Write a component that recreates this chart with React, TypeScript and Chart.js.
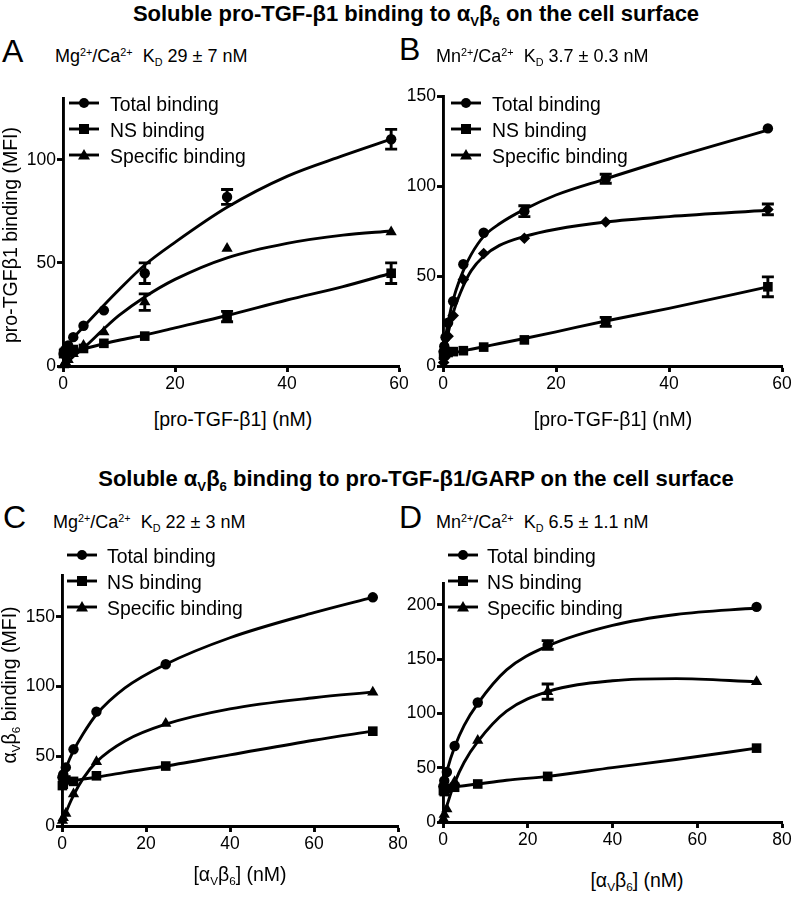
import React, { useEffect, useRef } from "react";
import { Chart, registerables } from "chart.js";
Chart.register(...registerables);

const FONT = '"Liberation Sans", Arial, Helvetica, sans-serif';

// ---------- Panel A : pro-TGF-b1 -> aVb6, Mg/Ca ----------
const concA = [0.11, 0.23, 0.46, 0.92, 1.83, 3.66, 7.3, 14.6, 29.3, 58.6];
const totalA = [6, 7, 8, 10, 14, 19.5, 27, 45, 82, 110];
const totalErrA = [0, 0, 0, 0, 0, 0, 0, 5, 3.6, 4.8];
const nsA = [6, 6.5, 7, 7.5, 8, 8.5, 11, 14.5, 24, 45];
const nsErrA = [0, 0, 0, 0, 0, 0, 0, 0, 2.5, 5];
const specA = [0.5, 1, 2, 3, 6, 10, 16.5, 31, 57, 65];
const specErrA = [0, 0, 0, 0, 0, 0, 0, 4, 0, 0];
const curveXA = [0, 1, 2, 4, 7.3, 10, 14.6, 20, 29.3, 40, 50, 58.6];
const totalCurveA = [6, 10, 14, 20, 29.5, 37, 49, 60, 77, 92, 102, 110];
const nsCurveA = [6, 6.6, 7.2, 8.5, 10.8, 12.5, 15, 18.5, 24.5, 32, 38.5, 45];
const specCurveA = [0, 2.5, 5, 9.5, 18, 24.5, 33.5, 42, 52.5, 59.5, 63.5, 65.5];
const xTicksA = [0, 20, 40, 60];
const yTicksA = [0, 50, 100];

// ---------- Panel B : pro-TGF-b1 -> aVb6, Mn/Ca ----------
const concB = [0.11, 0.225, 0.45, 0.9, 1.8, 3.6, 7.2, 14.4, 28.8, 57.5];
const totalB = [8, 11, 16, 24, 36, 56.5, 74, 86, 104, 132];
const totalErrB = [0, 0, 0, 0, 0, 0, 0, 3, 2.5, 0];
const nsB = [6, 6.5, 7, 7.5, 8, 8.5, 10.5, 14.5, 24.5, 44];
const nsErrB = [0, 0, 0, 0, 0, 0, 0, 0, 2.5, 5.5];
const specB = [2, 4.5, 9, 16.5, 28, 48, 62.5, 71, 80, 87];
const specErrB = [0, 0, 0, 0, 0, 0, 0, 0, 0, 3];
const curveXB = [0, 0.5, 1, 2, 3.6, 5, 7.2, 10, 14.4, 20, 28.8, 40, 57.5];
const totalCurveB = [6, 17, 26, 39, 53, 62, 72, 79, 87, 95, 104, 115, 131];
const nsCurveB = [6, 6.3, 6.6, 7.3, 8.4, 9.3, 10.7, 12.5, 15.3, 19, 25, 32, 44];
const specCurveB = [0, 10.5, 19.5, 31.5, 44.5, 53, 61, 67, 72, 76, 80, 83, 86.5];
const xTicksB = [0, 20, 40, 60];
const yTicksB = [0, 50, 100, 150];

// ---------- Panel C : aVb6 -> pro-TGF-b1/GARP, Mg/Ca ----------
const concC = [0.1, 0.3, 0.91, 2.74, 8.2, 24.7, 74];
const totalC = [35, 37, 42, 55, 82, 116, 164];
const totalErrC = [0, 0, 0, 0, 0, 0, 0];
const nsC = [29, 30, 33, 32, 36, 43, 68];
const nsErrC = [0, 0, 0, 0, 0, 0, 0];
const specC = [4, 6, 9, 23, 46, 73.5, 96];
const specErrC = [0, 0, 0, 0, 0, 0, 0];
const curveXC = [0, 1, 2.74, 5, 8.2, 15, 24.7, 40, 60, 74];
const totalCurveC = [33, 42, 54, 66, 80, 99, 116, 135, 153, 164];
const nsCurveC = [31, 31.6, 32.5, 33.6, 35, 38.5, 43, 51, 61.5, 68];
const specCurveC = [0, 10, 22, 34, 46, 61, 73, 84, 92, 96];
const xTicksC = [0, 20, 40, 60, 80];
const yTicksC = [0, 50, 100, 150];

// ---------- Panel D : aVb6 -> pro-TGF-b1/GARP, Mn/Ca ----------
const concD = [0.1, 0.3, 0.91, 2.74, 8.2, 24.7, 74];
const totalD = [33, 38, 46, 70, 110, 163, 198];
const totalErrD = [0, 0, 0, 0, 0, 4, 0];
const nsD = [29, 28, 31, 32, 35, 42, 68];
const nsErrD = [0, 0, 0, 0, 0, 0, 0];
const specD = [3, 7, 12, 37, 75, 120, 129];
const specErrD = [0, 0, 0, 0, 0, 7, 0];
const curveXD = [0, 1, 2.74, 5, 8.2, 15, 24.7, 40, 55, 74];
const totalCurveD = [31, 48, 69, 89, 109, 140, 162, 181, 191, 197];
const nsCurveD = [31, 31.5, 32.3, 33.4, 35, 38.4, 42, 50, 57.5, 68];
const specCurveD = [0, 16, 36, 55, 74, 102, 120, 130, 132, 129];
const xTicksD = [0, 20, 40, 60, 80];
const yTicksD = [0, 50, 100, 150, 200];

const YW = 60;
const PT = 20;
const PR = 25;
const XH = 40;
const LW = 2.9;

type Area = { left: number; top: number; right: number; bottom: number };

const errorBarPlugin = {
  id: "errorBars",
  afterDatasetsDraw(chart: any) {
    const ctx = chart.ctx;
    const xs = chart.scales.x;
    const ys = chart.scales.y;
    chart.data.datasets.forEach((ds: any) => {
      if (!ds.errors) return;
      ctx.save();
      ctx.strokeStyle = "#000";
      ctx.lineWidth = LW;
      ds.data.forEach((p: any, j: number) => {
        const e = ds.errors[j];
        if (!e) return;
        const px = xs.getPixelForValue(p.x);
        const y1 = ys.getPixelForValue(p.y + e);
        const y2 = ys.getPixelForValue(p.y - e);
        ctx.beginPath();
        ctx.moveTo(px, y1);
        ctx.lineTo(px, y2);
        ctx.moveTo(px - 6, y1);
        ctx.lineTo(px + 6, y1);
        ctx.moveTo(px - 6, y2);
        ctx.lineTo(px + 6, y2);
        ctx.stroke();
      });
      ctx.restore();
    });
  },
};

function pts(xs: number[], ys: number[]) {
  return xs.map((x, i) => ({ x, y: ys[i] }));
}

function curveDs(xs: number[], ys: number[]) {
  return {
    type: "line",
    data: pts(xs, ys),
    borderColor: "#000",
    borderWidth: LW,
    pointRadius: 0,
    fill: false,
    cubicInterpolationMode: "monotone",
    clip: false,
  };
}

function markDs(xs: number[], ys: number[], errs: number[], style: string, r: number) {
  return {
    type: "scatter",
    data: pts(xs, ys),
    pointStyle: style,
    pointRadius: r,
    backgroundColor: "#000",
    borderColor: "#000",
    borderWidth: 0,
    showLine: false,
    clip: false,
    errors: errs,
  };
}

type PanelProps = {
  area: Area;
  xMax: number;
  yMax: number;
  xTicks: number[];
  yTicks: number[];
  conc: number[];
  total: number[];
  totalErr: number[];
  ns: number[];
  nsErr: number[];
  spec: number[];
  specErr: number[];
  curveX: number[];
  totalCurve: number[];
  nsCurve: number[];
  specCurve: number[];
  specStyle?: string;
};

function Panel(p: PanelProps) {
  const ref = useRef<HTMLCanvasElement>(null);
  const w = p.area.right - p.area.left + YW + PR;
  const h = p.area.bottom - p.area.top + PT + XH;
  useEffect(() => {
    const tickFont = { family: FONT, size: 17.5 };
    const gridCfg = {
      display: true,
      drawOnChartArea: false,
      drawTicks: true,
      tickLength: 6,
      tickColor: "#000",
      tickWidth: LW,
    };
    const specIsDiamond = p.specStyle === "rectRot";
    const chart = new Chart(ref.current as HTMLCanvasElement, {
      type: "scatter",
      data: {
        datasets: [
          curveDs(p.curveX, p.totalCurve),
          curveDs(p.curveX, p.nsCurve),
          curveDs(p.curveX, p.specCurve),
          markDs(p.conc, p.total, p.totalErr, "circle", 5.2),
          markDs(p.conc, p.ns, p.nsErr, "rect", 6.8),
          markDs(p.conc, p.spec, p.specErr, p.specStyle || "triangle", specIsDiamond ? 5.8 : 6.5),
        ] as any,
      },
      options: {
        animation: false,
        responsive: false,
        events: [],
        layout: { padding: { left: 0, top: PT, right: PR, bottom: 0 } },
        plugins: { legend: { display: false }, tooltip: { enabled: false } },
        scales: {
          x: {
            type: "linear",
            min: 0,
            max: p.xMax,
            afterBuildTicks: (s: any) => {
              s.ticks = p.xTicks.map((v) => ({ value: v }));
            },
            afterFit: (s: any) => {
              s.height = XH;
            },
            ticks: { color: "#000", font: tickFont, padding: 2, maxRotation: 0, autoSkip: false },
            grid: gridCfg,
            border: { display: true, color: "#000", width: LW },
          },
          y: {
            type: "linear",
            min: 0,
            max: p.yMax,
            afterBuildTicks: (s: any) => {
              s.ticks = p.yTicks.map((v) => ({ value: v }));
            },
            afterFit: (s: any) => {
              s.width = YW;
            },
            ticks: { color: "#000", font: tickFont, padding: 1, autoSkip: false },
            grid: gridCfg,
            border: { display: true, color: "#000", width: LW },
          },
        },
      } as any,
      plugins: [errorBarPlugin],
    });
    return () => chart.destroy();
  }, []);
  return (
    <canvas
      ref={ref}
      width={w}
      height={h}
      style={{ position: "absolute", left: p.area.left - YW, top: p.area.top - PT, width: w, height: h }}
    />
  );
}

// text placed by baseline
function T(props: { x: number; base: number; size: number; bold?: boolean; center?: boolean; children: any }) {
  const { x, base, size, bold, center, children } = props;
  return (
    <div
      style={{
        position: "absolute",
        left: x,
        top: base - 0.8465 * size,
        fontFamily: FONT,
        fontSize: size,
        lineHeight: 1,
        fontWeight: bold ? "bold" : "normal",
        whiteSpace: "nowrap",
        transform: center ? "translateX(-50%)" : undefined,
        color: "#000",
      }}
    >
      {children}
    </div>
  );
}

const subS: React.CSSProperties = { fontSize: "0.6em", verticalAlign: "-0.35em", lineHeight: 0 };
const supS: React.CSSProperties = { fontSize: "0.6em", verticalAlign: "0.55em", lineHeight: 0 };

const AvB6 = () => (
  <>
    α<span style={subS}>V</span>β<span style={subS}>6</span>
  </>
);

function Marker({ kind }: { kind: string }) {
  return (
    <svg width={30} height={14} style={{ display: "block" }}>
      <line x1={0} y1={7} x2={30} y2={7} stroke="#000" strokeWidth={LW} />
      {kind === "circle" && <circle cx={15} cy={7} r={5} fill="#000" />}
      {kind === "rect" && <rect x={10} y={2} width={10} height={10} fill="#000" />}
      {kind === "triangle" && <polygon points="15,1 21,11.5 9,11.5" fill="#000" />}
    </svg>
  );
}

function Legend({ symX, textX, ys }: { symX: number; textX: number; ys: number[] }) {
  const labels = ["Total binding", "NS binding", "Specific binding"];
  const kinds = ["circle", "rect", "triangle"];
  return (
    <>
      {labels.map((l, i) => (
        <React.Fragment key={l}>
          <div style={{ position: "absolute", left: symX, top: ys[i] - 7 }}>
            <Marker kind={kinds[i]} />
          </div>
          <T x={textX} base={ys[i] + 8} size={19.4}>
            {l}
          </T>
        </React.Fragment>
      ))}
    </>
  );
}

function YTitle({ cx, cy, children }: { cx: number; cy: number; children: any }) {
  return (
    <div
      style={{
        position: "absolute",
        left: cx,
        top: cy,
        transform: "translate(-50%, -50%) rotate(-90deg)",
        fontFamily: FONT,
        fontSize: 19.5,
        lineHeight: 1,
        whiteSpace: "nowrap",
        color: "#000",
      }}
    >
      {children}
    </div>
  );
}

export default function App() {
  return (
    <div
      style={{
        position: "fixed",
        left: 0,
        top: 0,
        width: 796,
        height: 900,
        background: "#fff",
        overflow: "hidden",
      }}
    >
      <Panel
        area={{ left: 63, top: 98, right: 399, bottom: 366 }}
        xMax={60}
        yMax={130}
        xTicks={xTicksA}
        yTicks={yTicksA}
        conc={concA}
        total={totalA}
        totalErr={totalErrA}
        ns={nsA}
        nsErr={nsErrA}
        spec={specA}
        specErr={specErrA}
        curveX={curveXA}
        totalCurve={totalCurveA}
        nsCurve={nsCurveA}
        specCurve={specCurveA}
      />
      <Panel
        area={{ left: 443, top: 96, right: 782, bottom: 366 }}
        xMax={60}
        yMax={150}
        xTicks={xTicksB}
        yTicks={yTicksB}
        conc={concB}
        total={totalB}
        totalErr={totalErrB}
        ns={nsB}
        nsErr={nsErrB}
        spec={specB}
        specErr={specErrB}
        curveX={curveXB}
        totalCurve={totalCurveB}
        nsCurve={nsCurveB}
        specCurve={specCurveB}
        specStyle="rectRot"
      />
      <Panel
        area={{ left: 62, top: 575, right: 398, bottom: 826 }}
        xMax={80}
        yMax={180}
        xTicks={xTicksC}
        yTicks={yTicksC}
        conc={concC}
        total={totalC}
        totalErr={totalErrC}
        ns={nsC}
        nsErr={nsErrC}
        spec={specC}
        specErr={specErrC}
        curveX={curveXC}
        totalCurve={totalCurveC}
        nsCurve={nsCurveC}
        specCurve={specCurveC}
      />
      <Panel
        area={{ left: 443, top: 583, right: 782, bottom: 822 }}
        xMax={80}
        yMax={220}
        xTicks={xTicksD}
        yTicks={yTicksD}
        conc={concD}
        total={totalD}
        totalErr={totalErrD}
        ns={nsD}
        nsErr={nsErrD}
        spec={specD}
        specErr={specErrD}
        curveX={curveXD}
        totalCurve={totalCurveD}
        nsCurve={nsCurveD}
        specCurve={specCurveD}
      />

      {/* Titles */}
      <T x={416} base={22} size={22} bold center>
        Soluble pro-TGF-β1 binding to <AvB6 /> on the cell surface
      </T>
      <T x={416} base={487} size={22} bold center>
        Soluble <AvB6 /> binding to pro-TGF-β1/GARP on the cell surface
      </T>

      {/* Panel letters */}
      <T x={2} base={62} size={32}>A</T>
      <T x={399} base={60} size={32}>B</T>
      <T x={3} base={528} size={32}>C</T>
      <T x={399} base={528} size={32}>D</T>

      {/* Subtitles */}
      <T x={55} base={62} size={18}>
        Mg<span style={supS}>2+</span>/Ca<span style={supS}>2+</span>{"\u00a0\u00a0"}K<span style={subS}>D</span> 29 ± 7 nM
      </T>
      <T x={436} base={62} size={18}>
        Mn<span style={supS}>2+</span>/Ca<span style={supS}>2+</span>{"\u00a0\u00a0"}K<span style={subS}>D</span> 3.7 ± 0.3 nM
      </T>
      <T x={53} base={528} size={18}>
        Mg<span style={supS}>2+</span>/Ca<span style={supS}>2+</span>{"\u00a0\u00a0"}K<span style={subS}>D</span> 22 ± 3 nM
      </T>
      <T x={436} base={528} size={18}>
        Mn<span style={supS}>2+</span>/Ca<span style={supS}>2+</span>{"\u00a0\u00a0"}K<span style={subS}>D</span> 6.5 ± 1.1 nM
      </T>

      {/* Legends */}
      <Legend symX={69} textX={110} ys={[103, 129, 155]} />
      <Legend symX={451} textX={492} ys={[103, 129, 155]} />
      <Legend symX={67} textX={107} ys={[555, 581, 607]} />
      <Legend symX={448} textX={487} ys={[555, 581, 607]} />

      {/* Axis titles */}
      <YTitle cx={11} cy={235}>pro-TGFβ1 binding (MFI)</YTitle>
      <YTitle cx={10} cy={685}>
        <AvB6 /> binding (MFI)
      </YTitle>
      <T x={233} base={427} size={19.5} center>
        [pro-TGF-β1] (nM)
      </T>
      <T x={613} base={427} size={19.5} center>
        [pro-TGF-β1] (nM)
      </T>
      <T x={240} base={882} size={19.5} center>
        [<AvB6 />] (nM)
      </T>
      <T x={637} base={888} size={19.5} center>
        [<AvB6 />] (nM)
      </T>
    </div>
  );
}
